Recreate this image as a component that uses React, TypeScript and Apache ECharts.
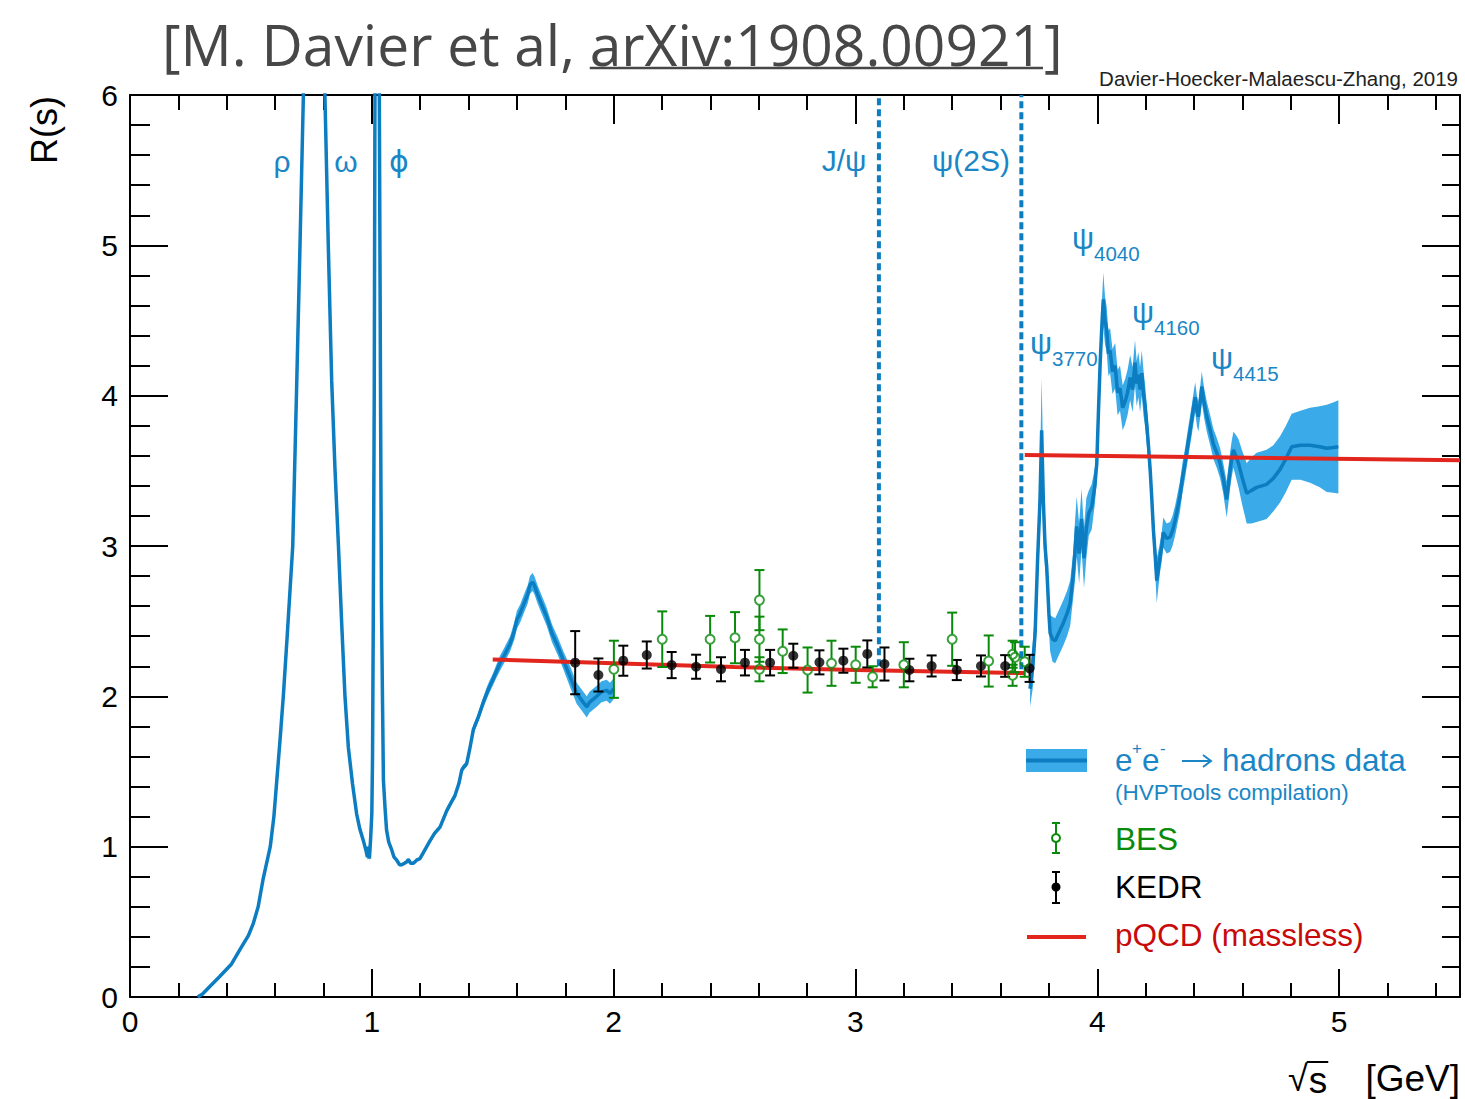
import React, { useEffect, useRef } from 'react';
import * as echarts from 'echarts';

// ---------- Data ----------
// Low-energy compilation (sqrt(s) in GeV, R, band half-width)
const lowS = [0.28, 0.30, 0.33, 0.37, 0.42, 0.46, 0.49, 0.51, 0.53, 0.55, 0.58, 0.595, 0.607, 0.62, 0.634, 0.65, 0.673, 0.689, 0.703, 0.717, 0.74, 0.775, 0.782, 0.795, 0.806, 0.82, 0.834, 0.848, 0.862, 0.875, 0.889, 0.903, 0.92, 0.937, 0.95, 0.965, 0.975, 0.982, 0.986, 0.99, 0.995, 1.0, 1.003, 1.006, 1.01, 1.013, 1.019, 1.024, 1.031, 1.036, 1.04, 1.044, 1.048, 1.055, 1.061, 1.07, 1.082, 1.092, 1.103, 1.115, 1.124, 1.135, 1.145, 1.151, 1.16, 1.172, 1.185, 1.199, 1.22, 1.241, 1.26, 1.282, 1.31, 1.33, 1.344, 1.36, 1.372, 1.38, 1.392, 1.405, 1.42, 1.44, 1.461, 1.48, 1.503, 1.516, 1.53, 1.55, 1.572, 1.59, 1.6, 1.613, 1.63, 1.645, 1.654, 1.665, 1.672, 1.685, 1.7, 1.723, 1.745, 1.77, 1.792, 1.82, 1.847, 1.87, 1.889, 1.9, 1.915, 1.93, 1.95, 1.971, 1.985, 2.0];
const lowR = [0.0, 0.02, 0.07, 0.135, 0.22, 0.33, 0.41, 0.49, 0.6, 0.78, 1.0, 1.2, 1.44, 1.7, 2.0, 2.4, 3.0, 4.05, 5.0, 6.0, 12, 45, 48, 14, 6.0, 5.0, 4.1, 3.5, 3.0, 2.5, 2.0, 1.66, 1.42, 1.22, 1.12, 1.04, 0.98, 0.93, 1.0, 0.92, 1.05, 1.22, 1.6, 2.5, 4.0, 6.0, 45, 12, 6.0, 4.0, 2.6, 2.0, 1.44, 1.25, 1.11, 1.03, 0.98, 0.93, 0.91, 0.88, 0.88, 0.89, 0.9, 0.915, 0.89, 0.89, 0.91, 0.92, 0.98, 1.04, 1.09, 1.13, 1.24, 1.3, 1.34, 1.42, 1.51, 1.53, 1.55, 1.65, 1.78, 1.86, 1.96, 2.04, 2.12, 2.17, 2.22, 2.28, 2.35, 2.44, 2.51, 2.55, 2.62, 2.68, 2.74, 2.76, 2.74, 2.68, 2.62, 2.53, 2.42, 2.33, 2.24, 2.13, 2.02, 1.97, 1.93, 1.96, 1.98, 2.0, 2.03, 2.04, 2.02, 2.05];
const lowE = [0.005, 0.005, 0.005, 0.006, 0.007, 0.008, 0.01, 0.01, 0.01, 0.01, 0.01, 0.01, 0.01, 0.01, 0.01, 0.01, 0.01, 0.01, 0.01, 0.01, 0.02, 0.05, 0.05, 0.02, 0.01, 0.01, 0.01, 0.01, 0.01, 0.01, 0.01, 0.01, 0.01, 0.01, 0.01, 0.01, 0.01, 0.02, 0.02, 0.02, 0.02, 0.02, 0.02, 0.02, 0.02, 0.02, 0.05, 0.02, 0.02, 0.02, 0.02, 0.02, 0.02, 0.01, 0.01, 0.01, 0.01, 0.01, 0.01, 0.01, 0.01, 0.01, 0.01, 0.01, 0.01, 0.01, 0.01, 0.01, 0.01, 0.015, 0.015, 0.015, 0.02, 0.02, 0.02, 0.02, 0.02, 0.02, 0.02, 0.025, 0.03, 0.03, 0.035, 0.04, 0.04, 0.045, 0.05, 0.05, 0.05, 0.06, 0.06, 0.06, 0.06, 0.06, 0.06, 0.06, 0.06, 0.06, 0.06, 0.06, 0.06, 0.06, 0.06, 0.07, 0.07, 0.07, 0.07, 0.07, 0.07, 0.07, 0.07, 0.07, 0.07, 0.07];

// Charm-threshold compilation
const highS = [3.722, 3.733, 3.743, 3.753, 3.763, 3.77, 3.777, 3.784, 3.791, 3.8, 3.805, 3.815, 3.826, 3.84, 3.86, 3.875, 3.888, 3.9, 3.908, 3.915, 3.925, 3.935, 3.945, 3.955, 3.965, 3.977, 3.99, 3.998, 4.005, 4.012, 4.02, 4.025, 4.032, 4.039, 4.046, 4.053, 4.063, 4.074, 4.084, 4.094, 4.105, 4.115, 4.125, 4.136, 4.146, 4.156, 4.163, 4.17, 4.177, 4.184, 4.191, 4.198, 4.205, 4.212, 4.219, 4.225, 4.232, 4.239, 4.246, 4.253, 4.26, 4.267, 4.273, 4.287, 4.301, 4.311, 4.322, 4.332, 4.342, 4.352, 4.363, 4.377, 4.391, 4.398, 4.405, 4.412, 4.418, 4.425, 4.432, 4.442, 4.453, 4.467, 4.48, 4.494, 4.508, 4.521, 4.535, 4.542, 4.549, 4.556, 4.563, 4.573, 4.584, 4.6, 4.618, 4.638, 4.659, 4.68, 4.7, 4.728, 4.756, 4.78, 4.804, 4.84, 4.88, 4.92, 4.949, 4.975, 4.997];
const highR = [2.05, 2.2, 2.42, 2.9, 3.3, 3.77, 3.3, 3.0, 2.86, 2.55, 2.42, 2.38, 2.37, 2.42, 2.49, 2.55, 2.62, 2.8, 2.97, 3.13, 2.95, 3.18, 2.92, 3.12, 3.22, 3.26, 3.4, 3.55, 3.9, 4.22, 4.5, 4.64, 4.5, 4.44, 4.28, 4.3, 4.16, 4.2, 4.02, 4.05, 3.92, 3.96, 4.02, 4.12, 4.04, 4.22, 4.08, 4.14, 4.04, 4.15, 4.02, 3.93, 3.8, 3.66, 3.5, 3.33, 3.11, 2.95, 2.77, 2.85, 2.93, 3.0, 3.09, 3.05, 3.06, 3.1, 3.17, 3.25, 3.33, 3.45, 3.55, 3.7, 3.84, 3.92, 3.99, 3.9, 3.86, 3.95, 4.06, 3.95, 3.86, 3.77, 3.68, 3.62, 3.55, 3.45, 3.31, 3.4, 3.5, 3.58, 3.64, 3.6, 3.55, 3.45, 3.35, 3.37, 3.39, 3.4, 3.41, 3.45, 3.51, 3.58, 3.66, 3.67, 3.67, 3.66, 3.65, 3.655, 3.66];
const highE = [0.12, 0.15, 0.15, 0.15, 0.2, 0.35, 0.2, 0.15, 0.1, 0.1, 0.12, 0.15, 0.15, 0.15, 0.15, 0.15, 0.15, 0.15, 0.2, 0.2, 0.2, 0.2, 0.2, 0.2, 0.15, 0.15, 0.12, 0.12, 0.12, 0.12, 0.15, 0.18, 0.16, 0.15, 0.15, 0.15, 0.15, 0.15, 0.15, 0.15, 0.15, 0.15, 0.15, 0.15, 0.15, 0.15, 0.15, 0.15, 0.15, 0.15, 0.15, 0.14, 0.13, 0.12, 0.12, 0.12, 0.12, 0.12, 0.15, 0.12, 0.1, 0.1, 0.1, 0.1, 0.1, 0.1, 0.1, 0.1, 0.1, 0.1, 0.1, 0.1, 0.1, 0.1, 0.1, 0.1, 0.1, 0.1, 0.1, 0.1, 0.1, 0.1, 0.1, 0.1, 0.1, 0.1, 0.12, 0.12, 0.12, 0.12, 0.12, 0.14, 0.16, 0.18, 0.2, 0.22, 0.23, 0.23, 0.23, 0.22, 0.22, 0.22, 0.22, 0.23, 0.25, 0.27, 0.29, 0.3, 0.31];

// KEDR
const kedrS = [1.841, 1.937, 2.04, 2.137, 2.24, 2.341, 2.444, 2.543, 2.647, 2.743, 2.851, 2.95, 3.049, 3.12, 3.223, 3.315, 3.419, 3.519, 3.619, 3.72];
const kedrR = [2.224, 2.142, 2.237, 2.275, 2.208, 2.197, 2.18, 2.224, 2.224, 2.27, 2.226, 2.237, 2.282, 2.215, 2.175, 2.202, 2.175, 2.202, 2.202, 2.186];
const kedrE = [0.21, 0.11, 0.1, 0.09, 0.087, 0.08, 0.08, 0.085, 0.085, 0.08, 0.08, 0.08, 0.09, 0.11, 0.075, 0.07, 0.067, 0.07, 0.072, 0.09];

// BES
const besS = [2.001, 2.201, 2.399, 2.502, 2.603, 2.603, 2.603, 2.699, 2.802, 2.901, 3.001, 3.071, 3.2, 3.4, 3.551, 3.65, 3.65, 3.66, 3.7];
const besR = [2.18, 2.38, 2.38, 2.39, 2.64, 2.38, 2.18, 2.3, 2.175, 2.22, 2.21, 2.13, 2.21, 2.38, 2.235, 2.28, 2.14, 2.26, 2.23];
const besE = [0.19, 0.185, 0.155, 0.17, 0.2, 0.15, 0.08, 0.145, 0.15, 0.15, 0.12, 0.07, 0.15, 0.177, 0.17, 0.09, 0.07, 0.1, 0.1];

// pQCD (massless)
const pqcdLowS = [1.5, 2.0, 2.5, 3.0, 3.7];
const pqcdLowR = [2.245, 2.22, 2.195, 2.175, 2.155];
const pqcdHighS = [3.7, 5.5];
const pqcdHighR = [3.605, 3.57];

// Narrow resonances (vertical dotted lines)
const narrowS = [3.097, 3.686];
const narrowRmin = [2.2, 2.18];
const narrowRmax = [6, 6];

// Axis ranges
const X_MIN = 0, X_MAX = 5.5, Y_MIN = 0, Y_MAX = 6;

// ---------- Styles ----------
const LINE_BLUE = '#0c7dc0';
const BAND_BLUE = '#3aabe8';
const TEXT_BLUE = '#1a86c6';
const GREEN = '#0a8a0a';
const RED = '#e2261d';
const FONT = '"Liberation Sans", Arial, Helvetica, sans-serif';

function pairs(xs: number[], ys: number[]) {
  return xs.map((x, i) => [x, ys[i]]);
}

function bandPoly(xs: number[], ys: number[], es: number[]) {
  const up = xs.map((x, i) => [x, ys[i] + es[i]]);
  const lo = xs.map((x, i) => [x, ys[i] - es[i]]).reverse();
  return up.concat(lo);
}

function errorBarSeries(xs: number[], ys: number[], es: number[], color: string, gap: number) {
  return {
    type: 'custom',
    silent: true,
    clip: true,
    encode: { x: 0, y: 1 },
    data: xs.map((x, i) => [x, ys[i], es[i]]),
    renderItem: (params: any, api: any) => {
      const x = api.value(0);
      const y = api.value(1);
      const e = api.value(2);
      const c = api.coord([x, y]);
      const t = api.coord([x, y + e]);
      const b = api.coord([x, y - e]);
      const cw = 5;
      const st = { stroke: color, lineWidth: 2 };
      return {
        type: 'group',
        children: [
          { type: 'line', shape: { x1: t[0], y1: t[1], x2: c[0], y2: c[1] - gap }, style: st },
          { type: 'line', shape: { x1: c[0], y1: c[1] + gap, x2: b[0], y2: b[1] }, style: st },
          { type: 'line', shape: { x1: t[0] - cw, y1: t[1], x2: t[0] + cw, y2: t[1] }, style: st },
          { type: 'line', shape: { x1: b[0] - cw, y1: b[1], x2: b[0] + cw, y2: b[1] }, style: st },
        ],
      };
    },
    z: 5,
  };
}

function measure(text: string, font: string) {
  const cv = document.createElement('canvas');
  const ctx = cv.getContext('2d') as CanvasRenderingContext2D;
  ctx.font = font;
  return ctx.measureText(text).width;
}

function axisX(position: string, interval: number, len: number, showLine: boolean, showLabel: boolean) {
  return {
    type: 'value',
    min: X_MIN,
    max: X_MAX,
    interval,
    position,
    axisLine: { show: showLine, onZero: false, lineStyle: { color: '#000', width: 2 } },
    axisTick: { show: true, inside: true, length: len, lineStyle: { color: '#000', width: 2 } },
    axisLabel: {
      show: showLabel,
      fontSize: 30,
      color: '#000',
      fontFamily: FONT,
      margin: 9,
      formatter: (v: number) => (Math.abs(v - Math.round(v)) < 1e-6 ? String(Math.round(v)) : ''),
    },
    splitLine: { show: false },
  };
}

function axisY(position: string, interval: number, len: number, showLine: boolean, showLabel: boolean) {
  return {
    type: 'value',
    min: Y_MIN,
    max: Y_MAX,
    interval,
    position,
    axisLine: { show: showLine, onZero: false, lineStyle: { color: '#000', width: 2 } },
    axisTick: { show: true, inside: true, length: len, lineStyle: { color: '#000', width: 2 } },
    axisLabel: {
      show: showLabel,
      fontSize: 30,
      color: '#000',
      fontFamily: FONT,
      margin: 12,
    },
    splitLine: { show: false },
  };
}

export default function App() {
  const ref = useRef<HTMLDivElement>(null);

  useEffect(() => {
    if (!ref.current) return;
    const chart = echarts.init(ref.current, undefined, { renderer: 'svg' });

    // Title layout (measured to span the same width as the reference)
    const t1 = '[M. Davier et al, ';
    const t2 = 'arXiv:1908.00921';
    const t3 = ']';
    const fam = '"Open Sans", Lato, sans-serif';
    const baseW = measure(t1 + t2 + t3, `52px ${fam}`);
    const tSize = Math.max(44, Math.min(58, (52 * 900) / baseW));
    const titleFont = `${tSize}px ${fam}`;
    const w1 = measure(t1, titleFont);
    const w2 = measure(t2, titleFont);
    const tx = 162;
    const ty = 44;
    const LEG = `31.5px ${FONT}`;

    // sqrt(s) axis title pieces
    const sqrtFont = `36px ${FONT}`;
    const sFont = `37px ${FONT}`;
    const sqrtX = 1288;
    const sqrtW = measure('√', sqrtFont);
    const sX = sqrtX + sqrtW + 1;
    const sW = measure('s', sFont);

    const graphics: any[] = [
      // title
      { type: 'text', x: tx, y: ty, style: { text: t1, font: titleFont, fill: '#474747', verticalAlign: 'middle' } },
      { type: 'text', x: tx + w1, y: ty, style: { text: t2, font: titleFont, fill: '#474747', verticalAlign: 'middle' } },
      { type: 'text', x: tx + w1 + w2 + 1, y: ty, style: { text: t3, font: titleFont, fill: '#474747', verticalAlign: 'middle' } },
      { type: 'line', shape: { x1: tx + w1, y1: 68, x2: tx + w1 + w2, y2: 68 }, style: { stroke: '#474747', lineWidth: 2.5 } },
      // credit
      { type: 'text', x: 1458, y: 78, style: { text: 'Davier-Hoecker-Malaescu-Zhang, 2019', font: `20.5px ${FONT}`, fill: '#222', align: 'right', verticalAlign: 'middle' } },
      // axis titles
      { type: 'text', x: 44, y: 130, rotation: Math.PI / 2, style: { text: 'R(s)', font: `36px ${FONT}`, fill: '#000', align: 'center', verticalAlign: 'middle' } },
      { type: 'text', x: sqrtX, y: 1078, style: { text: '√', font: sqrtFont, fill: '#000', align: 'left', verticalAlign: 'middle' } },
      { type: 'text', x: sX, y: 1080, style: { text: 's', font: sFont, fill: '#000', align: 'left', verticalAlign: 'middle' } },
      { type: 'line', shape: { x1: sX - 2, y1: 1062, x2: sX + sW + 1, y2: 1062 }, style: { stroke: '#000', lineWidth: 2 } },
      { type: 'text', x: 1460, y: 1078, style: { text: '[GeV]', font: sFont, fill: '#000', align: 'right', verticalAlign: 'middle' } },
      // resonance labels
      { type: 'text', x: 282, y: 161, style: { text: 'ρ', font: `30px ${FONT}`, fill: TEXT_BLUE, align: 'center', verticalAlign: 'middle' } },
      { type: 'text', x: 346, y: 161, style: { text: 'ω', font: `30px ${FONT}`, fill: TEXT_BLUE, align: 'center', verticalAlign: 'middle' } },
      { type: 'text', x: 399, y: 161, style: { text: 'ϕ', font: `30px "DejaVu Sans", ${FONT}`, fill: TEXT_BLUE, align: 'center', verticalAlign: 'middle' } },
      { type: 'text', x: 844, y: 160, style: { text: 'J/ψ', font: `30px ${FONT}`, fill: TEXT_BLUE, align: 'center', verticalAlign: 'middle' } },
      { type: 'text', x: 971, y: 160, style: { text: 'ψ(2S)', font: `30px ${FONT}`, fill: TEXT_BLUE, align: 'center', verticalAlign: 'middle' } },
      // psi with subscripts
      ...[
        { sx: 1041, sy: 343, name: '3770' },
        { sx: 1083, sy: 238, name: '4040' },
        { sx: 1143, sy: 312, name: '4160' },
        { sx: 1222, sy: 358, name: '4415' },
      ].flatMap((p) => [
        { type: 'text', x: p.sx, y: p.sy, style: { text: 'ψ', font: `31px ${FONT}`, fill: TEXT_BLUE, align: 'center', verticalAlign: 'middle' } },
        { type: 'text', x: p.sx + 11, y: p.sy + 15, style: { text: p.name, font: `20.5px ${FONT}`, fill: TEXT_BLUE, align: 'left', verticalAlign: 'middle' } },
      ]),
      // legend: band
      { type: 'rect', shape: { x: 1026, y: 749, width: 61, height: 23 }, style: { fill: BAND_BLUE } },
      { type: 'line', shape: { x1: 1026, y1: 760.5, x2: 1087, y2: 760.5 }, style: { stroke: LINE_BLUE, lineWidth: 4 } },
      { type: 'text', x: 1115, y: 760, style: { text: 'e', font: LEG, fill: TEXT_BLUE, verticalAlign: 'middle' } },
      { type: 'text', x: 1132, y: 748, style: { text: '+', font: `17px ${FONT}`, fill: TEXT_BLUE, verticalAlign: 'middle' } },
      { type: 'text', x: 1142, y: 760, style: { text: 'e', font: LEG, fill: TEXT_BLUE, verticalAlign: 'middle' } },
      { type: 'text', x: 1160, y: 748, style: { text: '-', font: `17px ${FONT}`, fill: TEXT_BLUE, verticalAlign: 'middle' } },
      { type: 'line', shape: { x1: 1182, y1: 761, x2: 1210, y2: 761 }, style: { stroke: TEXT_BLUE, lineWidth: 2 } },
      { type: 'polyline', shape: { points: [[1203, 755], [1211, 761], [1203, 767]] }, style: { stroke: TEXT_BLUE, lineWidth: 2, fill: 'none' } },
      { type: 'text', x: 1222, y: 760, style: { text: 'hadrons data', font: LEG, fill: TEXT_BLUE, verticalAlign: 'middle' } },
      { type: 'text', x: 1115, y: 792, style: { text: '(HVPTools compilation)', font: `22.5px ${FONT}`, fill: TEXT_BLUE, verticalAlign: 'middle' } },
      // legend: BES
      { type: 'line', shape: { x1: 1056, y1: 823, x2: 1056, y2: 834 }, style: { stroke: GREEN, lineWidth: 2 } },
      { type: 'line', shape: { x1: 1056, y1: 842, x2: 1056, y2: 853 }, style: { stroke: GREEN, lineWidth: 2 } },
      { type: 'line', shape: { x1: 1052, y1: 823, x2: 1060, y2: 823 }, style: { stroke: GREEN, lineWidth: 2 } },
      { type: 'line', shape: { x1: 1052, y1: 853, x2: 1060, y2: 853 }, style: { stroke: GREEN, lineWidth: 2 } },
      { type: 'circle', shape: { cx: 1056, cy: 838, r: 4 }, style: { fill: 'none', stroke: GREEN, lineWidth: 2 } },
      { type: 'text', x: 1115, y: 839, style: { text: 'BES', font: LEG, fill: GREEN, verticalAlign: 'middle' } },
      // legend: KEDR
      { type: 'line', shape: { x1: 1056, y1: 872, x2: 1056, y2: 903 }, style: { stroke: '#000', lineWidth: 2 } },
      { type: 'line', shape: { x1: 1052, y1: 872, x2: 1060, y2: 872 }, style: { stroke: '#000', lineWidth: 2 } },
      { type: 'line', shape: { x1: 1052, y1: 903, x2: 1060, y2: 903 }, style: { stroke: '#000', lineWidth: 2 } },
      { type: 'circle', shape: { cx: 1056, cy: 887, r: 4.5 }, style: { fill: '#000' } },
      { type: 'text', x: 1115, y: 887, style: { text: 'KEDR', font: LEG, fill: '#000', verticalAlign: 'middle' } },
      // legend: pQCD
      { type: 'line', shape: { x1: 1027, y1: 937, x2: 1086, y2: 937 }, style: { stroke: RED, lineWidth: 4 } },
      { type: 'text', x: 1115, y: 935, style: { text: 'pQCD (massless)', font: LEG, fill: '#c80a0a', verticalAlign: 'middle' } },
    ];

    const bandSeries = {
      type: 'custom',
      silent: true,
      clip: true,
      encode: { x: 0, y: 1 },
      data: [[lowS[0], lowR[0]]],
      renderItem: (params: any, api: any) => {
        const polys = [bandPoly(lowS, lowR, lowE), bandPoly(highS, highR, highE)];
        return {
          type: 'group',
          children: polys.map((pts) => ({
            type: 'polygon',
            shape: { points: pts.map((p) => api.coord(p)) },
            style: { fill: BAND_BLUE },
          })),
        };
      },
      z: 1,
    };

    const narrowSeries = narrowS.map((s, i) => ({
      type: 'line',
      silent: true,
      showSymbol: false,
      data: [[s, narrowRmin[i]], [s, narrowRmax[i]]],
      lineStyle: { color: LINE_BLUE, width: 4, type: [7, 4] },
      z: 2,
    }));

    const option: any = {
      animation: false,
      grid: { left: 130, right: 5, top: 95, bottom: 102, containLabel: false },
      xAxis: [
        axisX('bottom', 1, 28, true, true),
        axisX('bottom', 0.2, 14, false, false),
        axisX('top', 1, 29, true, false),
        axisX('top', 0.2, 15, false, false),
      ],
      yAxis: [
        axisY('left', 1, 38, true, true),
        axisY('left', 0.2, 20, false, false),
        axisY('right', 1, 38, true, false),
        axisY('right', 0.2, 18, false, false),
      ],
      series: [
        bandSeries,
        {
          type: 'line', silent: true, showSymbol: false, clip: true,
          data: pairs(lowS, lowR),
          lineStyle: { color: LINE_BLUE, width: 3.5 }, z: 3,
        },
        {
          type: 'line', silent: true, showSymbol: false, clip: true,
          data: pairs(highS, highR),
          lineStyle: { color: LINE_BLUE, width: 3.5 }, z: 3,
        },
        ...narrowSeries,
        {
          type: 'line', silent: true, showSymbol: false,
          data: pairs(pqcdLowS, pqcdLowR),
          lineStyle: { color: RED, width: 4 }, z: 4,
        },
        {
          type: 'line', silent: true, showSymbol: false,
          data: pairs(pqcdHighS, pqcdHighR),
          lineStyle: { color: RED, width: 4 }, z: 4,
        },
        errorBarSeries(kedrS, kedrR, kedrE, '#000', 0),
        {
          type: 'scatter', silent: true, symbol: 'circle', symbolSize: 10,
          data: pairs(kedrS, kedrR),
          itemStyle: { color: '#000' }, z: 6,
        },
        errorBarSeries(besS, besR, besE, GREEN, 5),
        {
          type: 'scatter', silent: true, symbol: 'circle', symbolSize: 9,
          data: pairs(besS, besR),
          itemStyle: { color: 'rgba(255,255,255,0)', borderColor: GREEN, borderWidth: 2 }, z: 7,
        },
      ],
      graphic: graphics,
    };

    chart.setOption(option);
    return () => chart.dispose();
  }, []);

  return (
    <div
      ref={ref}
      style={{ position: 'fixed', left: 0, top: 0, width: 1465, height: 1099, background: '#fff' }}
    />
  );
}
